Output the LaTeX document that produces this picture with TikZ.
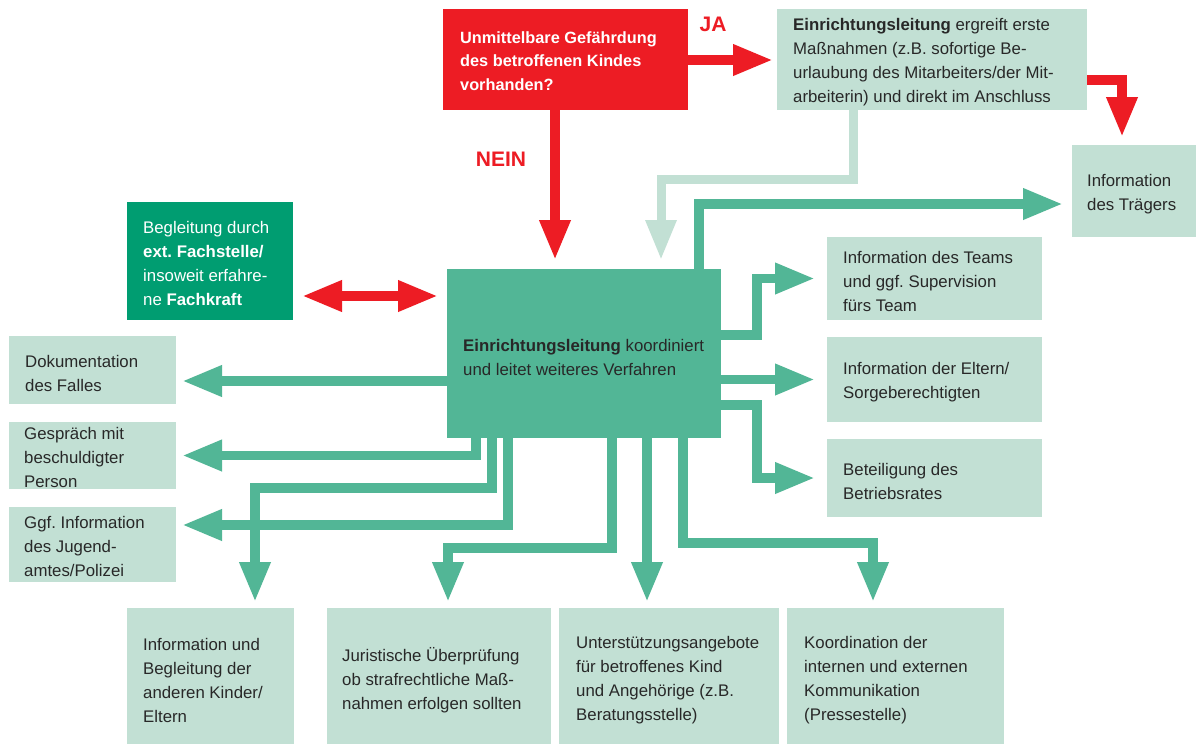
\documentclass[tikz,border=0pt]{standalone}
\usepackage{fontspec}
\setmainfont{Liberation Sans}
\usetikzlibrary{arrows.meta}
\frenchspacing
\definecolor{lightbox}{RGB}{194,224,212}
\definecolor{agreen}{RGB}{82,182,150}
\definecolor{dgreen}{RGB}{0,157,113}
\definecolor{ared}{RGB}{237,28,36}
\definecolor{textcol}{RGB}{40,40,40}
\tikzset{
  box/.style={fill=lightbox, inner sep=0pt, outer sep=0pt, anchor=north west},
  txt/.style={anchor=west, align=left, inner sep=0pt, text=textcol, font=\fontsize{16.8}{24}\selectfont},
  wtxt/.style={txt, text=white},
  tip/.style={-{Triangle[length=40pt,width=29pt]}},
  garr/.style={tip, draw=agreen, line width=9.5pt},
  rarr/.style={tip, draw=ared, line width=9.5pt},
  larr/.style={tip, draw=lightbox, line width=9pt},
  lbl/.style={inner sep=0pt, text=ared, font=\bfseries\fontsize{21}{25}\selectfont}
}
\begin{document}
\begin{tikzpicture}[x=1pt,y=-1pt]
\useasboundingbox (0,0) rectangle (1196,744);
\fill[white] (0,0) rectangle (1196,744);

% boxes
\node[box, fill=ared, minimum width=245pt, minimum height=101pt] (red) at (443,9) {};
\node[box, minimum width=310pt, minimum height=101pt] (topbox) at (777,9) {};
\node[box, minimum width=124pt, minimum height=92pt] (traeger) at (1072,145) {};
\node[box, fill=dgreen, minimum width=166pt, minimum height=118pt] (begl) at (127,202) {};
\node[box, fill=agreen, minimum width=274pt, minimum height=169pt] (main) at (447,269) {};
\node[box, minimum width=167pt, minimum height=68pt] (doku) at (9,336) {};
\node[box, minimum width=167pt, minimum height=67pt] (gesp) at (9,422) {};
\node[box, minimum width=167pt, minimum height=75pt] (ggf) at (9,507) {};
\node[box, minimum width=215pt, minimum height=83pt] (teams) at (827,237) {};
\node[box, minimum width=215pt, minimum height=85pt] (eltern) at (827,337) {};
\node[box, minimum width=215pt, minimum height=78pt] (betr) at (827,439) {};
\node[box, minimum width=167pt, minimum height=136pt] (b1) at (127,608) {};
\node[box, minimum width=224pt, minimum height=136pt] (b2) at (327,608) {};
\node[box, minimum width=220pt, minimum height=136pt] (b3) at (559,608) {};
\node[box, minimum width=217pt, minimum height=136pt] (b4) at (787,608) {};

% texts
\node[wtxt, font=\bfseries\fontsize{16.3}{23.5}\selectfont, xshift=17pt, yshift=-1.5pt] (red-t) at (red.west) {Unmittelbare Gefährdung\\des betroffenen Kindes\\vorhanden?};
\node[txt, xshift=16pt, yshift=-3pt] (topbox-t) at (topbox.west) {\textbf{Einrichtungsleitung} ergreift erste\\Maßnahmen (z.B. sofortige Be-\\urlaubung des Mitarbeiters/der Mit-\\arbeiterin) und direkt im Anschluss};
\node[txt, xshift=15pt, yshift=-3pt] (traeger-t) at (traeger.west) {Information\\des Trägers};
\node[wtxt, xshift=16pt, yshift=-2pt] (begl-t) at (begl.west) {Begleitung durch\\\textbf{ext. Fachstelle/}\\insoweit erfahre-\\ne \textbf{Fachkraft}};
\node[txt, xshift=16pt, yshift=-4pt] (main-t) at (main.west) {\textbf{Einrichtungsleitung} koordiniert\\und leitet weiteres Verfahren};
\node[txt, xshift=16pt, yshift=-3pt] (doku-t) at (doku.west) {Dokumentation\\des Falles};
\node[txt, xshift=15pt, yshift=-2pt] (gesp-t) at (gesp.west) {Gespräch mit\\beschuldigter\\Person};
\node[txt, xshift=15pt, yshift=-2pt] (ggf-t) at (ggf.west) {Ggf. Information\\des Jugend-\\amtes/Polizei};
\node[txt, xshift=16pt, yshift=-3pt] (teams-t) at (teams.west) {Information des Teams\\und ggf. Supervision\\fürs Team};
\node[txt, xshift=16pt, yshift=-3pt] (eltern-t) at (eltern.west) {Information der Eltern/\\Sorgeberechtigten};
\node[txt, xshift=16pt, yshift=-3pt] (betr-t) at (betr.west) {Beteiligung des\\Betriebsrates};
\node[txt, xshift=16pt, yshift=-4pt] (b1-t) at (b1.west) {Information und\\Begleitung der\\anderen Kinder/\\Eltern};
\node[txt, xshift=15pt, yshift=-4pt] (b2-t) at (b2.west) {Juristische Überprüfung\\ob strafrechtliche Maß-\\nahmen erfolgen sollten};
\node[txt, xshift=17pt, yshift=-4pt] (b3-t) at (b3.west) {Unterstützungsangebote\\für betroffenes Kind\\und Angehörige (z.B.\\Beratungsstelle)};
\node[txt, xshift=17pt, yshift=-4pt] (b4-t) at (b4.west) {Koordination der\\internen und externen\\Kommunikation\\(Pressestelle)};

% labels
\node[lbl] (ja) at (713,24) {JA};
\node[lbl] (nein) at (501,159) {NEIN};

% red arrows
\draw[rarr] ([xshift=112pt]red.south west) -- ([xshift=108pt,yshift=9pt]main.north west);
\draw[rarr] ([yshift=-51pt]red.north east) -- ([xshift=-4pt,yshift=-51pt]topbox.north west);
\draw[rarr] ([yshift=-71pt]topbox.north east) -| ([xshift=50pt,yshift=8pt]traeger.north west);
\draw[draw=ared, line width=9.5pt, {Triangle[length=40pt,width=29pt]}-{Triangle[length=40pt,width=29pt]}]
  ([xshift=9pt,yshift=-94pt]begl.north east) -- ([xshift=-9pt,yshift=-27pt]main.north west);

% light arrow
\draw[larr] ([xshift=76pt]topbox.south west) |- ([xshift=214pt,yshift=90pt]main.north west) -- ([xshift=214pt,yshift=9pt]main.north west);

% green arrows
\draw[garr] ([xshift=252pt]main.north west) |- ([xshift=-9pt,yshift=-13pt]traeger.west);
\draw[garr] ([yshift=-66pt]main.north east) -| ([xshift=-70pt]teams.west) -- ([xshift=-12pt]teams.west);
\draw[garr] (main.east |- eltern.west) -- ([xshift=-12pt]eltern.west);
\draw[garr] ([yshift=-136pt]main.north east) -| ([xshift=-70pt]betr.west) -- ([xshift=-12pt]betr.west);
\draw[garr] ([yshift=-112pt]main.north west) -- ([xshift=6pt,yshift=-11pt]doku.east);
\draw[garr] ([xshift=29pt]main.south west) |- ([xshift=6pt]gesp.east);
\draw[garr] ([xshift=45pt]main.south west) |- ([xshift=128pt,yshift=120pt]b1.north west) -- ([xshift=128pt,yshift=6pt]b1.north west);
\draw[garr] ([xshift=61pt]main.south west) |- ([xshift=6pt,yshift=19.5pt]ggf.east);
\draw[garr] ([xshift=165pt]main.south west) |- ([xshift=121pt,yshift=60pt]b2.north west) -- ([xshift=121pt,yshift=6pt]b2.north west);
\draw[garr] ([xshift=200pt]main.south west) -- ([xshift=88pt,yshift=6pt]b3.north west);
\draw[garr] ([xshift=236pt]main.south west) |- ([xshift=86pt,yshift=65pt]b4.north west) -- ([xshift=86pt,yshift=6pt]b4.north west);
\end{tikzpicture}
\end{document}
